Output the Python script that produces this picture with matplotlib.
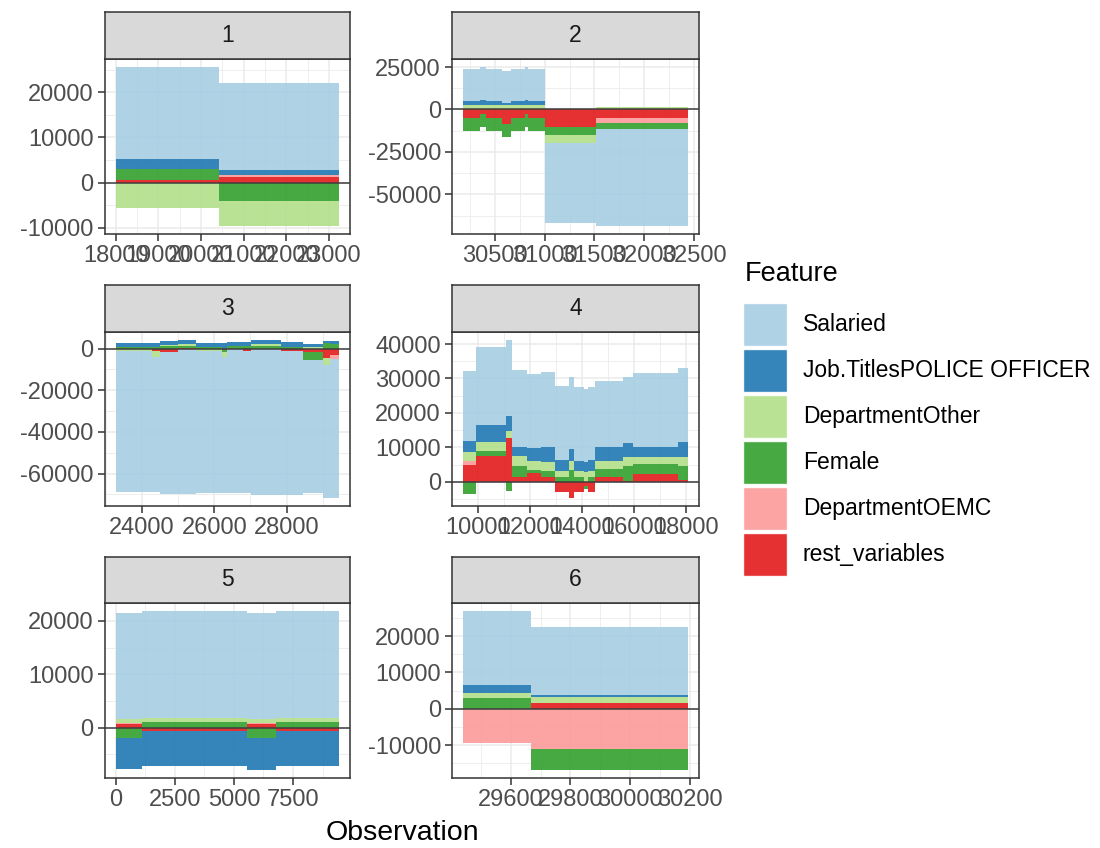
import matplotlib.pyplot as plt
from matplotlib.patches import Rectangle
from matplotlib.ticker import FixedLocator, MultipleLocator
import numpy as np

plt.rcParams['font.family'] = ['Liberation Sans', 'DejaVu Sans']

features = ['Salaried', 'Job.TitlesPOLICE OFFICER', 'DepartmentOther',
            'Female', 'DepartmentOEMC', 'rest_variables']
colors = ['#A6CEE3', '#1F78B4', '#B2DF8A', '#33A02C', '#FB9A99', '#E31A1C']

# Cluster 1: observation breakpoints and per-feature contributions
p1_edges = [18000, 20410, 23232]
p1_salaried = [20440, 19330]
p1_job = [2090, 960]
p1_dept_other = [-5630, -5480]
p1_female = [2430, -4150]
p1_oemc = [0, 600]
p1_rest = [670, 1180]

# Cluster 2
p2_edges = [30180, 30347, 30407, 30574, 30657, 30797, 30834, 31000, 31520, 32440]
p2_salaried = [19330, 19730, 19330, 18750, 19330, 19730, 19330, -47400, -57300]
p2_job = [1980, 2570, 1980, 990, 1980, 2570, 1980, 0, 0]
p2_dept_other = [2760, 2760, 2760, 2760, 2760, 2760, 2760, -4700, 1600]
p2_female = [-7500, -7900, -7500, -7900, -7500, -7900, -7500, -4740, -3700]
p2_oemc = [0, 0, 0, 0, 0, 0, 0, 0, -2760]
p2_rest = [-4930, -2560, -4930, -8480, -4930, -2560, -4930, -10260, -4930]

# Cluster 3
p3_edges = [23274, 24267, 24497, 24985, 25490, 26199, 26337, 26796, 27027,
            27855, 28452, 29004, 29189, 29445]
p3_salaried = [-67600, -65000, -68500, -70000, -68300, -65500, -69000, -68000,
               -70300, -69200, -63800, -63800, -66800]
p3_job = [2000, 2000, 2000, 2000, 1800, 2800, 1800, 1800, 1900, 2000, 1700, 1000, 1500]
p3_dept_other = [-1000, -2600, 500, 700, -1000, -2000, 400, 400, 800, 0, 600, -3300, 0]
p3_female = [800, 800, 1200, 1300, 1000, -1300, 1100, 1100, 1300, 1000, -3700, 2800, 2000]
p3_oemc = [0, 0, 0, 0, 0, 0, 0, 0, 0, 0, 0, 0, -2000]
p3_rest = [-200, -1200, -1500, 200, 0, -500, -300, -1300, -200, -1300, -1800, -4700, -3000]

# Cluster 4
p4_edges = [9451, 9935, 11105, 11333, 11905, 12411, 12983, 13490, 13680, 14088,
            14213, 14507, 15585, 15966, 17680, 18050]
p4_salaried = [20150, 22570, 22000, 22270, 21590, 21790, 21500, 20800, 21500,
               21300, 21210, 19370, 19170, 21500, 21600]
p4_job = [3390, 5030, 4400, 2620, 3590, 4360, 3190, 3400, 3100, 2910, 3390,
          3880, 4070, 2910, 4360]
p4_dept_other = [2420, 2420, 2000, 2900, 2710, 2420, 1940, 2800, 1740, 2710,
                 1740, 2420, 2420, 1940, 2420]
p4_female = [-3580, 1450, -2600, 3390, 970, 1940, 1260, 3300, 1260, -800, 1260,
             2230, 4360, 2900, 4160]
p4_oemc = [1260, 0, 0, 0, 0, 0, 0, 0, 0, 0, 0, 0, 0, 0, 0]
p4_rest = [4840, 7550, 12800, 1260, 2420, 1260, -2900, -4750, -2900, -1200,
           -2900, 1450, 300, 2230, 500]

# Cluster 5
p5_edges = [0, 1122, 5570, 6776, 9442]
p5_salaried = [20000, 20130, 20000, 20130]
p5_job = [-5920, -6540, -6040, -6540]
p5_dept_other = [625, 620, 625, 620]
p5_female = [-1870, 1120, -1870, 1120]
p5_oemc = [315, 0, 315, 0]
p5_rest = [620, -620, 620, -620]

# Cluster 6
p6_edges = [29441, 29669, 30193]
p6_salaried = [20300, 18700]
p6_job = [2200, 550]
p6_dept_other = [1300, 1650]
p6_female = [3100, -5700]
p6_oemc = [-9360, -11100]
p6_rest = [0, 1650]

panels = [
    (p1_edges, [p1_salaried, p1_job, p1_dept_other, p1_female, p1_oemc, p1_rest],
     [18000, 19000, 20000, 21000, 22000, 23000], [-10000, 0, 10000, 20000]),
    (p2_edges, [p2_salaried, p2_job, p2_dept_other, p2_female, p2_oemc, p2_rest],
     [30500, 31000, 31500, 32000, 32500], [-50000, -25000, 0, 25000]),
    (p3_edges, [p3_salaried, p3_job, p3_dept_other, p3_female, p3_oemc, p3_rest],
     [24000, 26000, 28000], [-60000, -40000, -20000, 0]),
    (p4_edges, [p4_salaried, p4_job, p4_dept_other, p4_female, p4_oemc, p4_rest],
     [10000, 12000, 14000, 16000, 18000], [0, 10000, 20000, 30000, 40000]),
    (p5_edges, [p5_salaried, p5_job, p5_dept_other, p5_female, p5_oemc, p5_rest],
     [0, 2500, 5000, 7500], [0, 10000, 20000]),
    (p6_edges, [p6_salaried, p6_job, p6_dept_other, p6_female, p6_oemc, p6_rest],
     [29600, 29800, 30000, 30200], [-10000, 0, 10000, 20000]),
]

W, H = 1100, 848
fig = plt.figure(figsize=(11, 8.48), dpi=100)

col_x = [(104.7, 350), (452, 699)]
row_y = [(12, 59, 234), (285, 332, 506), (557, 603, 778)]


def stacked_steps(ax, edges, series):
    # positive and negative parts stack separately, rest_variables nearest zero
    x = np.array(edges, float)
    n = len(edges) - 1
    pos = np.zeros(n)
    neg = np.zeros(n)
    for vals, col in reversed(list(zip(series, colors))):
        v = np.array(vals, float)
        base = np.where(v >= 0, pos, neg)
        top = base + v
        ax.fill_between(x, np.append(base, base[-1]), np.append(top, top[-1]),
                        step='post', color=col, alpha=0.9, lw=0, zorder=2)
        pos = np.where(v >= 0, top, pos)
        neg = np.where(v < 0, top, neg)


for i, (edges, series, xt, yt) in enumerate(panels):
    r, c = divmod(i, 2)
    x0, x1 = col_x[c]
    ys, yp, yb = row_y[r]
    ax = fig.add_axes([x0 / W, 1 - yb / H, (x1 - x0) / W, (yb - yp) / H])
    stacked_steps(ax, edges, series)
    ax.axhline(0, color='#3d3d3d', lw=1.1, zorder=3)
    ax.margins(0.05)

    ax.xaxis.set_major_locator(FixedLocator(xt))
    ax.yaxis.set_major_locator(FixedLocator(yt))
    ax.xaxis.set_minor_locator(MultipleLocator((xt[1] - xt[0]) / 2))
    ax.yaxis.set_minor_locator(MultipleLocator((yt[1] - yt[0]) / 2))
    ax.set_xticklabels([str(v) for v in xt])
    ax.set_yticklabels([str(v) for v in yt])
    ax.grid(which='major', color='#EBEBEB', lw=1.1, zorder=0)
    ax.grid(which='minor', color='#EBEBEB', lw=0.6, zorder=0)
    ax.set_axisbelow(True)
    ax.tick_params(which='major', length=5, width=1.1, color='#333333',
                   labelsize=17, labelcolor='#4D4D4D', pad=3)
    ax.tick_params(which='minor', length=0)
    for s in ax.spines.values():
        s.set_color('#333333')
        s.set_linewidth(1.1)

    strip = fig.add_axes([x0 / W, 1 - yp / H, (x1 - x0) / W, (yp - ys) / H])
    strip.set_facecolor('#D9D9D9')
    strip.set_xticks([])
    strip.set_yticks([])
    for s in strip.spines.values():
        s.set_color('#333333')
        s.set_linewidth(1.1)
    strip.text(0.5, 0.5, str(i + 1), ha='center', va='center',
               fontsize=16.5, color='#1A1A1A', transform=strip.transAxes)

fig.text(402 / W, 1 - 833 / H, 'Observation', ha='center', va='center',
         fontsize=20.5, color='black')

# legend
fig.text(745 / W, 1 - 274 / H, 'Feature', ha='left', va='center',
         fontsize=19.5, color='black')
for k, (name, col) in enumerate(zip(features, colors)):
    top = 303 + k * 46
    fig.add_artist(Rectangle((743 / W, 1 - (top + 43) / H), 44 / W, 43 / H,
                             transform=fig.transFigure, facecolor=col,
                             alpha=0.9, edgecolor='white', lw=1))
    fig.text(803 / W, 1 - (top + 21.5) / H, name, ha='left', va='center',
             fontsize=16.5, color='black')

fig.savefig('out.png', dpi=100)
